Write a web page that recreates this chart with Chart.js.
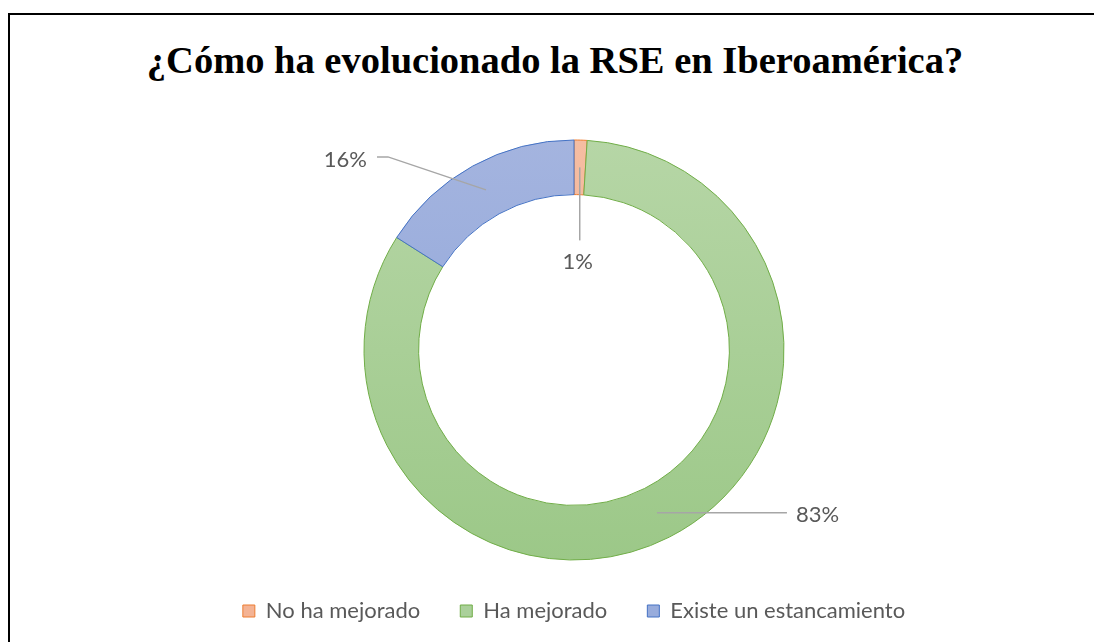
<!DOCTYPE html>
<html>
<head>
<meta charset="utf-8">
<script src="https://cdn.jsdelivr.net/npm/chart.js@4.4.1/dist/chart.umd.min.js"></script>
<style>
  html, body { margin: 0; padding: 0; background: #fff; }
  body { width: 1094px; height: 642px; overflow: hidden; position: relative; }
  .frame {
    position: absolute; left: 8px; top: 13px; right: -10px; bottom: -10px;
    border-left: 2px solid #000; border-top: 2px solid #000;
  }
  .chart-title {
    position: absolute; left: 16px; width: 1078px; top: 38px;
    text-align: center; line-height: 44px;
    font: bold 38.5px "Liberation Serif", "Times New Roman", serif; color: #000;
  }
  .wrap { position: absolute; left: 54px; top: 0; width: 1040px; height: 642px; }
</style>
</head>
<body>
<div class="frame"></div>
<div class="chart-title">¿Cómo ha evolucionado la RSE en Iberoamérica?</div>
<div class="wrap"><canvas id="rseChart"></canvas></div>
<script>
/* ─────────────────────────────────────────────
   Data
───────────────────────────────────────────── */
const categories = ['No ha mejorado', 'Ha mejorado', 'Existe un estancamiento'];
const shares = [1, 83, 16];
const shareLabels = ['1%', '83%', '16%'];

const fillTop = ['#f5bda2', '#b6d6a6', '#a4b4df'];
const fillBottom = ['#f2ae8c', '#9cc888', '#8aa2d8'];
const fillLegend = ['#f4b394', '#aad09a', '#98acdc'];
const edgeColors = ['#ed7d31', '#70ad47', '#4472c4'];

const fontSans = 'Lato, "Open Sans", sans-serif';
const textGrey = '#595959';
const leaderGrey = '#a6a6a6';
const ringRadius = 210;

function sliceFill(ctx) {
  const chart = ctx.chart;
  const i = ctx.dataIndex;
  const area = chart.chartArea;
  if (!area || i === undefined) return fillLegend[i] || fillLegend[0];
  const cy = (area.top + area.bottom) / 2;
  if (!isFinite(cy)) return fillLegend[i];
  const g = chart.ctx.createLinearGradient(0, cy - ringRadius, 0, cy + ringRadius);
  g.addColorStop(0, fillTop[i]);
  g.addColorStop(1, fillBottom[i]);
  return g;
}

/* ─────────────────────────────────────────────
   Leader-line labels
───────────────────────────────────────────── */
const leaderLabels = {
  id: 'leaderLabels',
  afterDatasetsDraw(chart) {
    const { ctx } = chart;
    const meta = chart.getDatasetMeta(0);
    ctx.save();
    ctx.strokeStyle = leaderGrey;
    ctx.lineWidth = 1.5;
    ctx.fillStyle = textGrey;
    ctx.font = '22px ' + fontSans;
    meta.data.forEach((arc, i) => {
      const p = arc.getProps(['x', 'y', 'startAngle', 'endAngle', 'innerRadius', 'outerRadius'], true);
      const mid = (p.startAngle + p.endAngle) / 2;
      const rm = (p.innerRadius + p.outerRadius) / 2;
      const ax = p.x + Math.cos(mid) * rm;
      const ay = p.y + Math.sin(mid) * rm;
      ctx.beginPath();
      if (i === 0) {
        ctx.moveTo(ax, ay);
        ctx.lineTo(ax, ay + 73);
        ctx.stroke();
        ctx.textAlign = 'center';
        ctx.textBaseline = 'middle';
        ctx.fillText(shareLabels[i], ax - 2, ay + 95);
      } else if (i === 1) {
        ctx.moveTo(ax, ay);
        ctx.lineTo(ax + 130, ay);
        ctx.stroke();
        ctx.textAlign = 'left';
        ctx.textBaseline = 'middle';
        ctx.fillText(shareLabels[i], ax + 139, ay + 2);
      } else {
        ctx.moveTo(ax, ay);
        ctx.lineTo(ax - 98, ay - 33);
        ctx.lineTo(ax - 109, ay - 33);
        ctx.stroke();
        ctx.textAlign = 'right';
        ctx.textBaseline = 'middle';
        ctx.fillText(shareLabels[i], ax - 119, ay - 30);
      }
    });
    ctx.restore();
  }
};

/* ─────────────────────────────────────────────
   Chart
───────────────────────────────────────────── */
new Chart(document.getElementById('rseChart'), {
  type: 'doughnut',
  data: {
    labels: categories,
    datasets: [{
      data: shares,
      backgroundColor: sliceFill,
      borderColor: edgeColors,
      borderWidth: 1,
      borderAlign: 'center',
      radius: ringRadius,
      cutout: '74%',
    }]
  },
  options: {
    responsive: true,
    maintainAspectRatio: false,
    animation: false,
    layout: { padding: { left: 0, right: 0, top: 140, bottom: 10 } },
    plugins: {
      title: { display: false },
      legend: {
        position: 'bottom',
        labels: {
          color: textGrey,
          font: { family: fontSans, size: 22 },
          boxWidth: 12,
          boxHeight: 12,
          padding: 40,
          generateLabels: (chart) => categories.map((name, i) => ({
            text: name,
            fillStyle: fillLegend[i],
            strokeStyle: edgeColors[i],
            lineWidth: 1,
            fontColor: textGrey,
            index: i,
            hidden: false,
          })),
        }
      },
      tooltip: { enabled: false }
    }
  },
  plugins: [leaderLabels]
});
</script>
</body>
</html>
